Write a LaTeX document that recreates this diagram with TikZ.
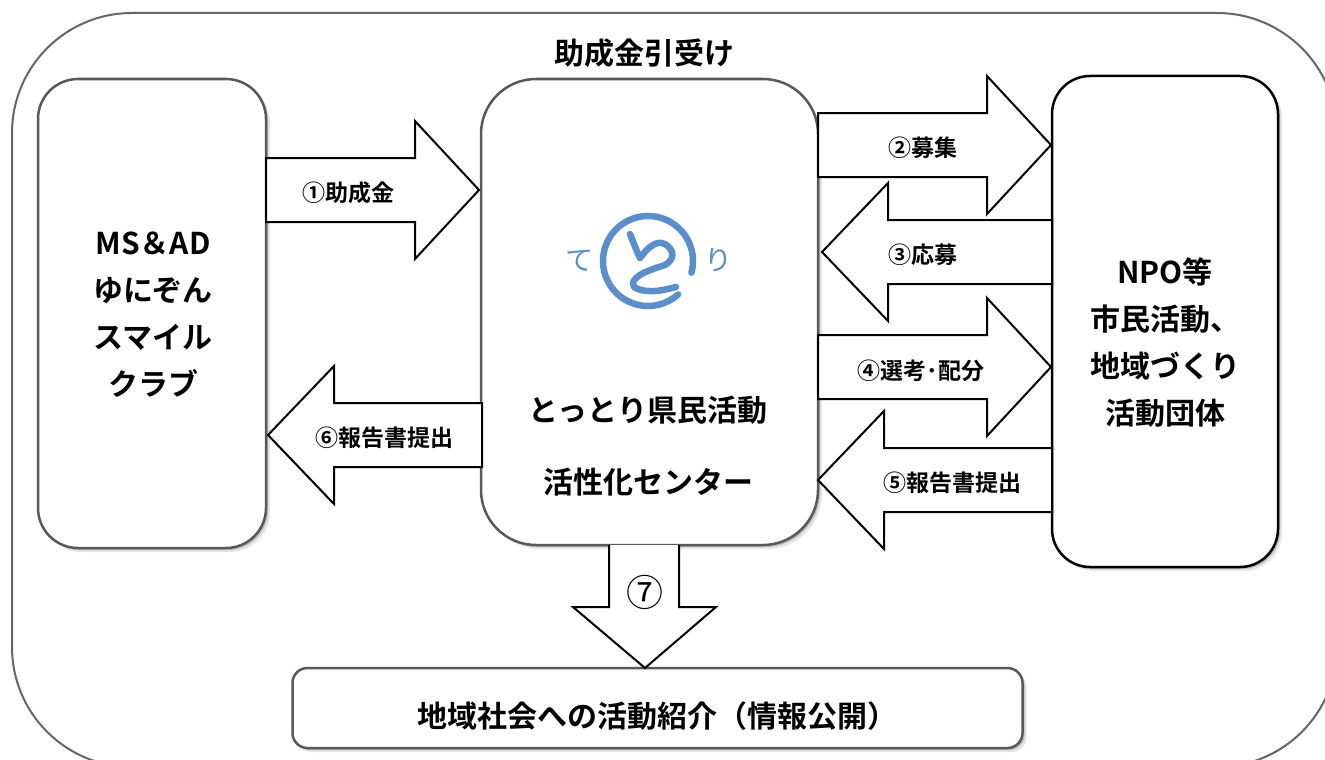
\documentclass[tikz,border=0pt]{standalone}
\usepackage{fontspec}
\setmainfont{Noto Sans CJK JP}[UprightFont=* Medium, BoldFont=* Bold]
\newfontfamily\jpthin{Noto Sans CJK JP}
\usetikzlibrary{shadows}
\definecolor{boxgray}{HTML}{595959}
\definecolor{framegray}{HTML}{666666}
\definecolor{logoblue}{HTML}{5B8FCB}
\tikzset{
  sh/.style={drop shadow={shadow xshift=2pt,shadow yshift=-2pt,opacity=0.18,fill=black},
             drop shadow={shadow xshift=4pt,shadow yshift=-4pt,opacity=0.10,fill=black}},
  box/.style={draw=boxgray, line width=2.5pt, fill=white, rounded corners=#1, inner sep=0pt, sh},
  box/.default=40pt,
  frame/.style={draw=framegray, line width=2pt, rounded corners=120pt, inner sep=0pt},
  arr/.style={draw=black, line width=2pt, fill=white, line join=miter},
  big/.style={font=\bfseries\fontsize{30}{47}\selectfont, align=center, inner sep=0pt},
  lbl/.style={font=\bfseries\fontsize{23}{28}\selectfont, inner sep=0pt},
  logo/.style={draw=logoblue, line width=6.5pt, line cap=round, line join=round},
  logotxt/.style={text=logoblue, font=\jpthin\fontsize{28}{28}\selectfont, inner sep=0pt}
}
\newcommand{\rightblock}[3]{%
  \draw[arr] (#1,#3-32) -- (#2-64,#3-32) -- (#2-64,#3-69) -- (#2,#3) -- (#2-64,#3+69) -- (#2-64,#3+32) -- (#1,#3+32) -- cycle;}
\newcommand{\leftblock}[3]{%
  \draw[arr] (#2,#3-32) -- (#1+66,#3-32) -- (#1+66,#3-69) -- (#1,#3) -- (#1+66,#3+69) -- (#1+66,#3+32) -- (#2,#3+32) -- cycle;}
\begin{document}
\begin{tikzpicture}[x=1pt,y=-1pt]
\useasboundingbox (0,0) rectangle (1325,760);
\clip (0,0) rectangle (1325,760);
\fill[white] (0,0) rectangle (1325,760);
% outer frame
\node[frame, minimum width=1325pt, minimum height=754pt] (outer) at (674.5,390) {};
% boxes
\node[box=40pt, minimum width=228pt, minimum height=469pt] (ms) at (152,313.5) {};
\node[box=55pt, minimum width=337pt, minimum height=466pt] (center) at (649.5,312) {};
\node[box=38pt, draw=black, minimum width=226pt, minimum height=491pt] (npo) at (1165,321.5) {};
\node[box=15pt, minimum width=730pt, minimum height=80pt] (pub) at (657.5,708) {};
% texts
\node[big] (mstxt) at (153,315) {MS＆AD\\ゆにぞん\\スマイル\\クラブ};
\node[big] (npotxt) at (1165,343) {NPO等\\市民活動、\\地域づくり\\活動団体};
\node[big] (ctr1) at (648,410) {とっとり県民活動};
\node[big] (ctr2) at (648,482) {活性化センター};
\node[big] (grant) at (644,53) {助成金引受け};
\node[big] (pubtxt) at (657,716) {地域社会への活動紹介（情報公開）};
% logo
\node[logotxt] (te) at (579,261) {て};
\node[logotxt] (ri) at (718,260) {り};
\coordinate (lc) at (648,261);
\draw[logo] ([shift={(15:45)}]lc) arc[start angle=15, end angle=-312, radius=45];
\draw[logo] (630,234) .. controls (634,244) and (637,252) .. (640,258);
\draw[logo] plot[smooth, tension=0.7] coordinates {(640,258) (650,247) (662,243) (672,252) (668,263) (653,269) (640,275) (633,283) (638,289) (655,291) (676,287)};
% arrows
\rightblock{266}{479}{190}
\node[lbl] (l1) at (348,193) {①助成金};
\rightblock{818}{1051}{145}
\node[lbl] (l2) at (923,148) {②募集};
\leftblock{822}{1052}{252}
\node[lbl] (l3) at (923,255) {③応募};
\rightblock{818}{1051}{367}
\node[lbl] (l4) at (921,371) {④選考･配分};
\leftblock{818}{1052}{480}
\node[lbl] (l5) at (952,483) {⑤報告書提出};
\leftblock{268}{482}{435}
\node[lbl] (l6) at (384,438) {⑥報告書提出};
% arrow 7
\draw[arr] (609,545) -- (609,607) -- (573,607) -- (645,668) -- (716,607) -- (679,607) -- (679,545);
\node[inner sep=0pt, font=\jpthin\fontsize{37}{37}\selectfont] (l7) at (645,592) {⑦};
\end{tikzpicture}
\end{document}
